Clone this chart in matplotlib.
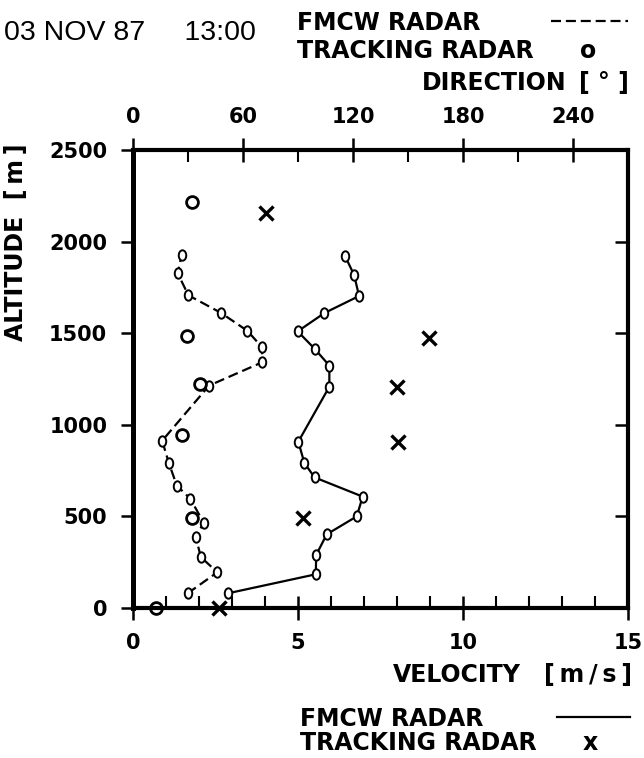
import matplotlib
matplotlib.use('Agg')
import matplotlib.pyplot as plt
from matplotlib.path import Path
from matplotlib.transforms import Affine2D
from matplotlib.lines import Line2D
from matplotlib.ticker import FixedLocator, MultipleLocator

# ---------------- data ----------------
# FMCW radar, wind velocity profile (solid line)
fmcw_vel_alt = [80, 184, 289, 402, 500, 608, 713, 793, 908, 1208, 1323, 1416,
                1510, 1610, 1703, 1818, 1923]
fmcw_vel = [2.87, 5.54, 5.55, 5.87, 6.78, 6.96, 5.50, 5.19, 5.01, 5.95, 5.95,
            5.50, 4.99, 5.80, 6.85, 6.70, 6.42]

# FMCW radar, wind direction profile (dashed line)
fmcw_dir_alt = [80, 195, 278, 386, 466, 596, 668, 790, 913, 1214, 1341, 1423,
                1513, 1612, 1707, 1827, 1927]
fmcw_dir = [29.8, 46.0, 37.0, 34.3, 38.5, 31.3, 23.9, 19.6, 15.9, 41.5, 70.4,
            70.4, 62.4, 47.8, 30.2, 24.4, 26.5]

# Tracking radar
trk_vel_alt = [0, 490, 908, 1205, 1472, 2158]
trk_vel = [2.6, 5.14, 8.04, 7.99, 8.98, 4.04]
trk_dir_alt = [0, 490, 944, 1225, 1487, 2215]
trk_dir = [12.3, 32.0, 27.0, 36.5, 29.6, 32.0]

vel_ticks = [0, 5, 10, 15]
dir_ticks = [0, 60, 120, 180, 240]
alt_ticks = [0, 500, 1000, 1500, 2000, 2500]
right_ticks = [500, 1000, 1500, 2000]

# ---------------- figure ----------------
plt.rcParams['font.family'] = ['DejaVu Sans']
plt.rcParams['font.weight'] = 'bold'

W, H = 644, 758
fig = plt.figure(figsize=(W / 100, H / 100), dpi=100)


def fx(px):
    return px / W


def fy(py):
    return 1 - py / H


L, R, T, B = 133, 628, 150, 608
ax = fig.add_axes([fx(L), fy(B), (R - L) / W, (B - T) / H])
ax.set_xlim(0, 15)
ax.set_ylim(0, 2500)

ax2 = ax.twiny()
ax2.set_xlim(0, 270)
ax3 = ax.twinx()
ax3.set_ylim(0, 2500)

for s in ax.spines.values():
    s.set_linewidth(3.0)
ax.spines['left'].set_linewidth(3.6)
for a in (ax2, ax3):
    for s in a.spines.values():
        s.set_visible(False)

tick_font = 15
# bottom velocity axis
ax.xaxis.set_major_locator(FixedLocator(vel_ticks))
ax.xaxis.set_minor_locator(MultipleLocator(1))
ax.tick_params(axis='x', which='major', direction='inout', length=17, width=1.8,
               pad=9.5, labelsize=tick_font)
ax.tick_params(axis='x', which='minor', direction='in', length=8.5, width=1.5)
# left altitude axis
ax.yaxis.set_major_locator(FixedLocator(alt_ticks))
ax.tick_params(axis='y', which='major', direction='out', length=9, width=1.8,
               pad=9.5, labelsize=tick_font)
# top direction axis
ax2.xaxis.set_major_locator(FixedLocator(dir_ticks))
ax2.xaxis.set_minor_locator(MultipleLocator(30))
ax2.tick_params(axis='x', which='major', direction='inout', length=17, width=1.8,
                pad=8, labelsize=tick_font)
ax2.tick_params(axis='x', which='minor', direction='in', length=8.5, width=1.5)
# right ticks
ax3.yaxis.set_major_locator(FixedLocator(right_ticks))
ax3.tick_params(axis='y', which='major', direction='in', length=9.5, width=1.8,
                labelright=False)

# small "0"-shaped marker
small = Path.unit_circle().transformed(Affine2D().scale(0.72, 1.0))

ax.plot(fmcw_vel, fmcw_vel_alt, '-', color='k', lw=1.6, marker=small, ms=7.5,
        mfc='white', mec='k', mew=1.4, zorder=3)
ax2.plot(fmcw_dir, fmcw_dir_alt, color='k', lw=1.6, linestyle=(0, (4.5, 2.2)),
         marker=small, ms=7.5, mfc='white', mec='k', mew=1.4, zorder=3)

ax2.plot(trk_dir, trk_dir_alt, ls='none', marker='o', ms=8.5, mfc='none',
         mec='k', mew=2.0, clip_on=False, zorder=5)
ax.plot(trk_vel, trk_vel_alt, ls='none', marker='x', ms=10, mew=2.4, color='k',
        clip_on=False, zorder=5)

# ---------------- texts ----------------
lab = dict(family='DejaVu Sans', weight='bold', fontsize=17)

fig.text(fx(4), fy(40), '03 NOV 87     13:00', family='Liberation Sans',
         weight='normal', fontsize=20.5, va='baseline', ha='left')

fig.text(fx(297), fy(30), 'FMCW RADAR', va='baseline', ha='left', **lab)
fig.add_artist(Line2D([fx(551), fx(628)], [fy(21), fy(21)],
                      transform=fig.transFigure, color='k', lw=1.6,
                      linestyle=(0, (4.5, 2.2))))
fig.text(fx(297), fy(58), 'TRACKING RADAR', va='baseline', ha='left', **lab)
fig.text(fx(588), fy(58), 'o', va='baseline', ha='center', **lab)
fig.text(fx(422), fy(90), 'DIRECTION', va='baseline', ha='left', **lab)
fig.text(fx(629), fy(90), '[ \u00b0 ]', va='baseline', ha='right', **lab)

fig.text(fx(16), fy(242), 'ALTITUDE  [\u2009m\u2009]', rotation=90,
         ha='center', va='center', **lab)

fig.text(fx(393), fy(682), 'VELOCITY', va='baseline', ha='left', **lab)
fig.text(fx(632), fy(682), '[\u2009m\u2009/\u2009s\u2009]', va='baseline',
         ha='right', **lab)

fig.text(fx(300), fy(726), 'FMCW RADAR', va='baseline', ha='left', **lab)
fig.add_artist(Line2D([fx(557), fx(630)], [fy(717), fy(717)],
                      transform=fig.transFigure, color='k', lw=1.6))
fig.text(fx(300), fy(750), 'TRACKING RADAR', va='baseline', ha='left', **lab)
fig.text(fx(590), fy(750), 'x', va='baseline', ha='center', **lab)

fig.savefig('out.png', dpi=100, facecolor='white')
